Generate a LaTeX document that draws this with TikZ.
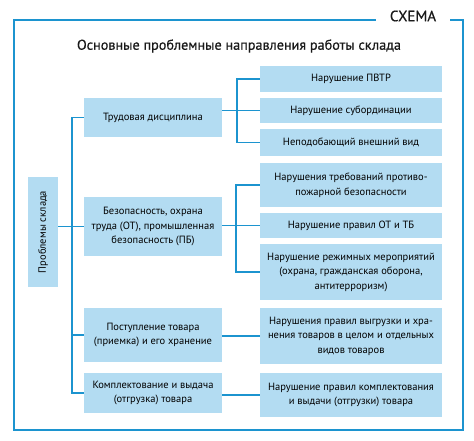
\documentclass[tikz,border=0pt]{standalone}
\usepackage{fontspec}
\setmainfont{PT Sans}
\newfontfamily\titlefont[FakeBold=0.6]{PT Sans}
\definecolor{schemeblue}{HTML}{1C94CF}
\definecolor{boxblue}{HTML}{B3DCF2}

\begin{document}
\begin{tikzpicture}[x=1pt,y=-1pt,
	box/.style={fill=boxblue,text=black,align=center,inner sep=0pt,font=\fontsize{10.5}{14.5}\selectfont},
	sidebox/.style={box,minimum width=138pt},
	subbox/.style={box,minimum width=182pt},
	link/.style={draw=schemeblue,line width=1.5pt},
	frame/.style={draw=schemeblue,line width=2pt}]
		\useasboundingbox (0,0) rectangle (474,441);
		\node[font=\titlefont\fontsize{15}{17}\selectfont,text=black!90,inner xsep=14pt] (schema) at (413,16) {СХЕМА};
		\coordinate (frametop) at (0,20);
		\draw[frame] (schema.west |- frametop) -- (14,20) -- (14,430) -- (463,430) -- (463,20) -- (schema.east |- frametop);
		\node[font=\titlefont\fontsize{14.2}{17}\selectfont,text=black!90] (title) at (239,46) {Основные проблемные направления работы склада};
		\node[box,minimum width=110pt,minimum height=30pt,rotate=90] (root) at (43,232) {Проблемы склада};
		\node[sidebox,minimum height=39pt] (labour) at (153,117.5) {Трудовая дисциплина};
		\node[sidebox,minimum height=59pt] (safety) at (153,226.5) {Безопасность, охрана\\труда (ОТ), промышленная\\безопасность (ПБ)};
		\node[sidebox,minimum height=54pt] (intake) at (153,335) {Поступление товара\\(приемка) и его хранение};
		\node[sidebox,minimum height=40pt] (picking) at (153,393) {Комплектование и выдача\\(отгрузка) товара};
		\node[subbox,minimum height=26pt] (pvtr) at (351,79) {Нарушение ПВТР};
		\node[subbox,minimum height=25pt] (subord) at (351,110.5) {Нарушение субординации};
		\node[subbox,minimum height=27pt] (look) at (351,142.5) {Неподобающий внешний вид};
		\node[subbox,minimum height=44pt] (fire) at (351,185) {Нарушения требований противо-\\пожарной безопасности};
		\node[subbox,minimum height=25pt] (otb) at (351,225.5) {Нарушение правил ОТ и ТБ};
		\node[subbox,minimum height=56pt] (regime) at (351,272) {Нарушение режимных мероприятий\\(охрана, гражданская оборона,\\антитерроризм)};
		\node[subbox,minimum height=56pt] (unload) at (351,336) {Нарушения правил выгрузки и хра-\\нения товаров в целом и отдельных\\видов товаров};
		\node[subbox,minimum height=44pt] (issue) at (351,395) {Нарушение правил комплектования\\и выдачи (отгрузки) товара};
		\coordinate (trunk) at (72,0);
		\coordinate (brA) at (237,0);
		\coordinate (brB) at (236,0);
		\draw[link] (root.south |- safety) -- (safety.west);
		\draw[link] (labour.west) -| (trunk |- picking) -- (picking.west);
		\draw[link] (trunk |- intake) -- (intake.west);
		\draw[link] (pvtr.west) -| (brA |- look) -- (look.west);
		\draw[link] (labour.east |- subord) -- (subord.west);
		\draw[link] (fire.west) -| (brB |- regime) -- (regime.west);
		\draw[link] (safety.east |- otb) -- (otb.west);
		\draw[link] (intake.east |- unload) -- (unload.west);
		\draw[link] (picking.east |- issue) -- (issue.west);
\end{tikzpicture}
\end{document}
